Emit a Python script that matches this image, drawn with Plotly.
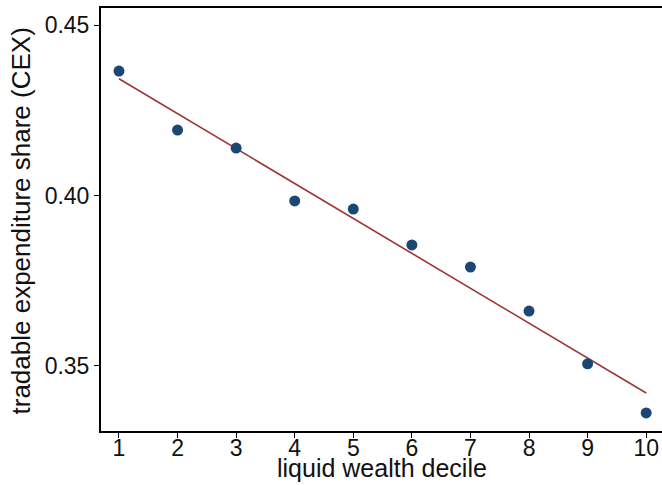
import numpy as np
import plotly.graph_objects as go

deciles = [1, 2, 3, 4, 5, 6, 7, 8, 9, 10]
tradable_share = [0.4365, 0.4192, 0.4139, 0.3984, 0.3960, 0.3855, 0.3790, 0.3661, 0.3506, 0.3362]
y_ticks = [0.35, 0.40, 0.45]
y_tick_labels = ["0.35", "0.40", "0.45"]
x_title = "liquid wealth decile"
y_title = "tradable expenditure share (CEX)"

slope, intercept = np.polyfit(deciles, tradable_share, 1)
fit = [slope * d + intercept for d in deciles]

fig = go.Figure()
fig.add_trace(go.Scatter(x=deciles, y=fit, mode="lines",
                         line=dict(color="#9b3535", width=1.6), showlegend=False))
fig.add_trace(go.Scatter(x=deciles, y=tradable_share, mode="markers",
                         marker=dict(color="#1b4872", size=11), showlegend=False))

family = "Liberation Sans, Arial, sans-serif"
tick_font = dict(family=family, size=23, color="#111")
title_font = dict(family=family, size=25, color="#111")
ytitle_font = dict(family=family, size=26, color="#111")
fig.update_layout(
    width=662, height=485,
    margin=dict(l=101, r=0, t=8, b=54),
    plot_bgcolor="white", paper_bgcolor="white",
    font=tick_font,
    xaxis=dict(range=[0.693, 10.27], tickmode="array", tickvals=deciles,
               showgrid=False, zeroline=False, showline=True, linecolor="black",
               linewidth=2, mirror=True, ticks="outside", ticklen=5, tickcolor="black",
               tickfont=tick_font, automargin=False, ticklabelstandoff=-10),
    yaxis=dict(range=[0.3309, 0.455], tickmode="array", tickvals=y_ticks,
               ticktext=y_tick_labels, showgrid=False, zeroline=False, showline=True,
               linecolor="black", linewidth=2, ticks="outside", ticklen=5, tickcolor="black",
               tickfont=tick_font, automargin=False),
    annotations=[
        dict(text=x_title, xref="paper", yref="paper", x=0.5, y=0,
             xanchor="center", yanchor="middle", yshift=-37, showarrow=False,
             font=title_font),
        dict(text=y_title, xref="paper", yref="paper", x=0, y=0.5,
             xanchor="center", yanchor="middle", xshift=-81, yshift=-2, textangle=-90,
             showarrow=False, font=ytitle_font),
    ],
)
fig.write_html("out.html", config={"displayModeBar": False},
               post_script="document.body.style.margin='0';document.body.style.overflow='hidden';")
